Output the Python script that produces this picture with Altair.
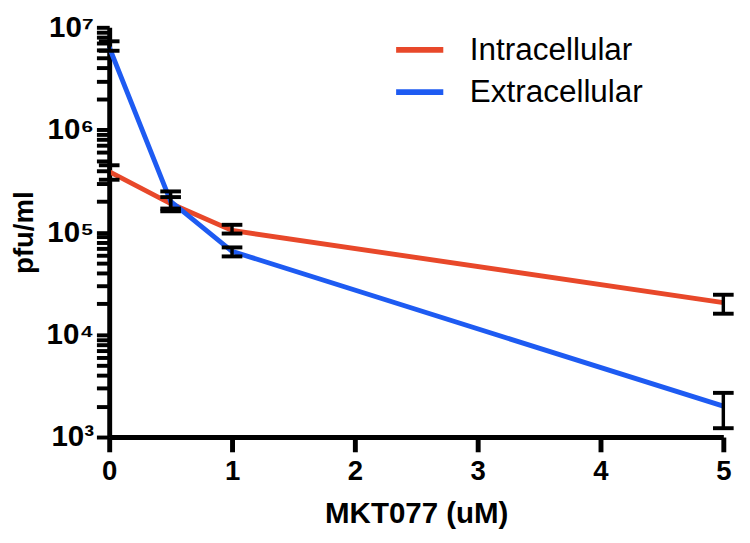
import altair as alt
import pandas as pd

# ---- data ----
doses = [0, 0.5, 1, 5]
series_names = ["Intracellular", "Extracellular"]
intra_mean = [3.9e5, 1.9e5, 1.04e5, 2.05e4]
intra_lo = [3.25e5, 1.7e5, 0.97e5, 1.6e4]
intra_hi = [4.5e5, 2.2e5, 1.18e5, 2.45e4]
extra_mean = [6.4e6, 2.0e5, 6.5e4, 2.0e3]
extra_lo = [5.9e6, 1.6e5, 5.8e4, 1.22e3]
extra_hi = [7.3e6, 2.5e5, 7.1e4, 2.7e3]
colors = ["#E8482A", "#1E5BF2"]
x_ticks = [0, 1, 2, 3, 4, 5]
y_ticks = [m * 10 ** e for e in range(3, 7) for m in range(1, 10)] + [1e7]

rows, err_rows, cap_rows = [], [], []
for name, mean, lo, hi in [
    ("Intracellular", intra_mean, intra_lo, intra_hi),
    ("Extracellular", extra_mean, extra_lo, extra_hi),
]:
    for d, m, l, h in zip(doses, mean, lo, hi):
        rows.append({"dose": d, "series": name, "pfu": m})
        err_rows.append({"dose": d, "series": name, "pfu": l, "hi": h})
        cap_rows.append({"dose": d, "series": name, "pfu": l})
        cap_rows.append({"dose": d, "series": name, "pfu": h})
df = pd.DataFrame(rows)
df_err = pd.DataFrame(err_rows)
df_cap = pd.DataFrame(cap_rows)

FONT = "Liberation Sans"

is_major = "abs(log(datum.value)/LN10 - round(log(datum.value)/LN10)) < 0.001"
sup = ("'10' + (datum.value >= 9e6 ? '\u2077' : datum.value >= 9e5 ? '\u2076' : "
       "datum.value >= 9e4 ? '\u2075' : datum.value >= 9e3 ? '\u2074' : '\u00b3')")
label_expr = is_major + " ? " + sup + " : ''"


def xenc():
    return alt.X(
        "dose:Q",
        scale=alt.Scale(domain=[0, 5], nice=False, zero=False),
        axis=alt.Axis(
            values=x_ticks, title="MKT077 (uM)", grid=False,
            labelFont=FONT, labelFontSize=28, labelFontWeight="bold",
            labelColor="black", labelPadding=6, labelFlush=False,
            ticks=True, tickSize=15, tickWidth=5, tickColor="black",
            domainWidth=5, domainColor="black",
            titleFont=FONT, titleFontSize=30, titleFontWeight="bold",
            titleColor="black", titlePadding=14,
        ),
    )


def yenc():
    return alt.Y(
        "pfu:Q",
        scale=alt.Scale(type="log", domain=[1e3, 1e7], nice=False),
        axis=alt.Axis(
            values=y_ticks, labelExpr=label_expr, grid=False,
            labelFont=FONT, labelFontSize=30, labelFontWeight="bold",
            labelColor="black", labelPadding=3, labelFlush=False,
            ticks=True, tickSize=13, tickWidth=4, tickColor="black",
            domainWidth=5, domainColor="black",
            minExtent=64, maxExtent=64,
            title="pfu/ml", titleFont=FONT, titleFontSize=28,
            titleFontWeight="bold", titleColor="black", titlePadding=8,
        ),
    )


lines = alt.Chart(df).mark_line(strokeWidth=5).encode(
    x=xenc(),
    y=yenc(),
    color=alt.Color(
        "series:N",
        scale=alt.Scale(domain=series_names, range=colors),
        legend=alt.Legend(
            title=None, orient="none", legendX=289, legendY=-4,
            symbolType="stroke", symbolSize=2304, symbolStrokeWidth=6,
            labelFont=FONT, labelFontSize=32, labelColor="black",
            labelOffset=24, labelLimit=400, padding=0, rowPadding=-4,
        ),
    ),
    detail="series:N",
)

rules = alt.Chart(df_err).mark_rule(strokeWidth=3.5, color="black").encode(
    x=xenc(), y=yenc(), y2="hi:Q",
)

caps = alt.Chart(df_cap).mark_point(
    shape="stroke", size=441, strokeWidth=4, color="black",
    filled=False, opacity=1,
).encode(x=xenc(), y=yenc())

chart = (
    alt.layer(lines, rules, caps)
    .properties(width=625, height=417, padding={"left": 3, "top": 0, "right": 0, "bottom": 0})
    .configure_view(strokeWidth=0)
)

chart.save("out.html", embed_options={"renderer": "svg", "actions": False})
